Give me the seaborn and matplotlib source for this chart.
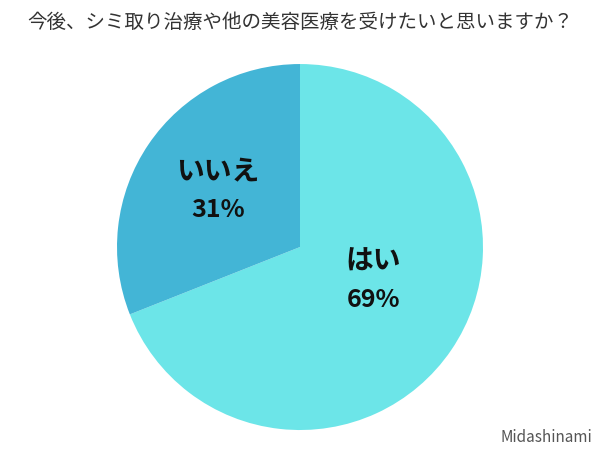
import matplotlib
matplotlib.use("Agg")
from matplotlib import pyplot as plt
import seaborn as sns

# data
labels = ["はい", "いいえ"]
values = [69, 31]
colors = ["#6ce5e8", "#43b5d6"]
title = "今後、シミ取り治療や他の美容医療を受けたいと思いますか？"

sns.set_theme(style="white")
plt.rcParams['font.family'] = ['Noto Sans CJK JP', 'DejaVu Sans']

fig = plt.figure(figsize=(6, 4.5), dpi=100)
ax = fig.add_axes([0.195, 0.0444, 0.61, 0.8133])
wedges, _ = ax.pie(values, colors=colors, startangle=90, counterclock=False,
                   wedgeprops={'linewidth': 0})
ax.set_xlim(-1, 1)
ax.set_ylim(-1, 1)
ax.set_aspect('equal')
ax.axis('off')

# slice labels
pos = {"はい": (0.40, -0.08, -0.29), "いいえ": (-0.45, 0.41, 0.20)}
for lab, v in zip(labels, values):
    x, y1, y2 = pos[lab]
    ax.text(x, y1, lab, ha='center', va='center', fontsize=20,
            fontweight='bold', color='#111111')
    ax.text(x, y2, f"{v}%", ha='center', va='center', fontsize=18,
            fontweight='bold', color='#111111')

fig.text(0.5, 1 - 22 / 450, title, ha='center', va='center', fontsize=14,
         color='#333333')
fig.text(0.987, 1 - 437 / 450, "Midashinami", ha='right', va='center',
         fontsize=11, color='#555555')

fig.savefig("out.png", dpi=100, facecolor='white')
